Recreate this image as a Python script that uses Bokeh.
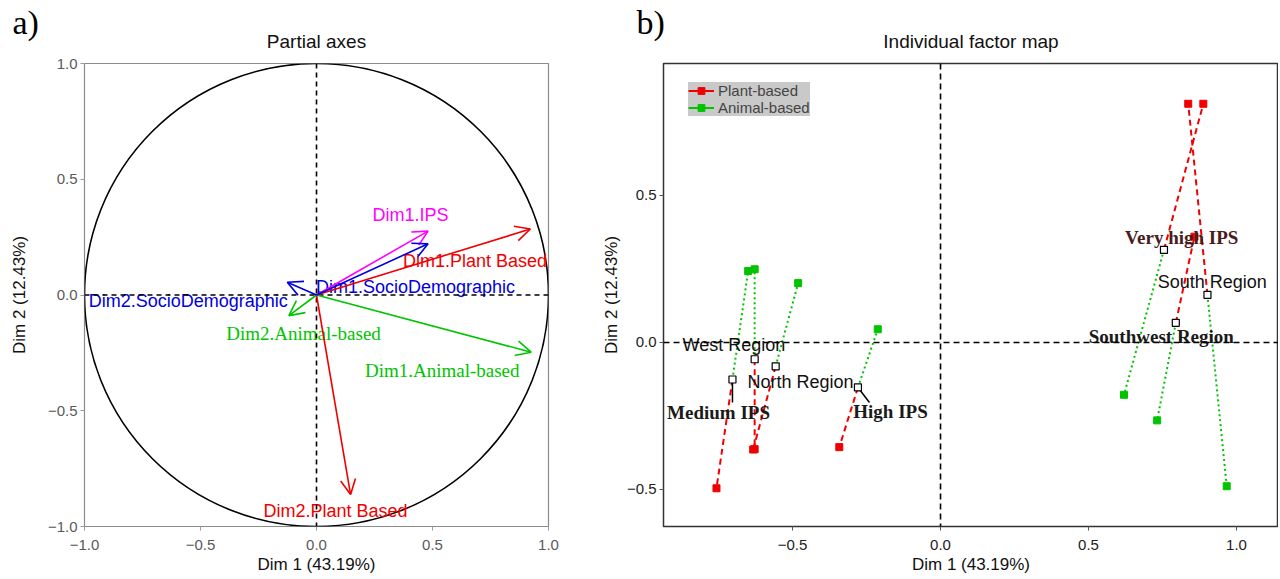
from bokeh.plotting import figure
from bokeh.models import (Arrow, OpenHead, Span, FixedTicker, Legend,
                          LegendItem, Title)
from bokeh.layouts import row
from bokeh.embed import file_html
from bokeh.resources import INLINE
from bokeh.core.properties import value

NAN = float("nan")

# ---------------- data: a) partial axes ----------------
axis_names = ["Dim1.Plant Based", "Dim2.Plant Based", "Dim1.Animal-based",
              "Dim2.Animal-based", "Dim1.IPS", "Dim1.SocioDemographic",
              "Dim2.SocioDemographic"]
axis_group = ["Plant Based", "Plant Based", "Animal-based", "Animal-based",
              "IPS", "SocioDemographic", "SocioDemographic"]
axis_dim1 = [0.922, 0.147, 0.925, -0.119, 0.481, 0.481, -0.126]
axis_dim2 = [0.285, -0.862, -0.247, -0.089, 0.276, 0.221, 0.055]
axis_label_dim1 = [0.683, 0.082, 0.542, -0.056, 0.405, 0.427, -0.553]
axis_label_dim2 = [0.149, -0.931, -0.326, -0.166, 0.345, 0.034, -0.024]
left_ticks = [-1.0, -0.5, 0.0, 0.5, 1.0]
left_tick_labels = ["\u22121.0", "\u22120.5", "0.0", "0.5", "1.0"]

# ---------------- data: b) individual factor map ----------------
ind_names = ["West Region", "North Region", "Medium IPS", "High IPS",
             "Very high IPS", "South Region", "Southwest Region"]
ind_bold = [False, False, True, True, True, False, True]
ind_dim1 = [-0.628, -0.557, -0.703, -0.279, 0.755, 0.902, 0.795]
ind_dim2 = [-0.057, -0.081, -0.126, -0.153, 0.315, 0.162, 0.067]
plant_dim1 = [-0.628, -0.633, -0.757, -0.342, 0.888, 0.837, 0.858]
plant_dim2 = [-0.363, -0.364, -0.496, -0.356, 0.812, 0.812, 0.360]
animal_dim1 = [-0.628, -0.481, -0.650, -0.212, 0.620, 0.967, 0.732]
animal_dim2 = [0.249, 0.202, 0.243, 0.045, -0.178, -0.489, -0.265]
ind_label_dim1 = [-0.698, -0.473, -0.750, -0.169, 0.815, 0.918, 0.746]
ind_label_dim2 = [-0.010, -0.133, -0.238, -0.234, 0.357, 0.207, 0.020]
leader_names = ["Medium IPS", "High IPS"]
leader_end_dim1 = [-0.703, -0.240]
leader_end_dim2 = [-0.204, -0.204]
legend_labels = ["Plant-based", "Animal-based"]
right_xticks = [-0.5, 0.0, 0.5, 1.0]
right_xtick_labels = ["\u22120.5", "0.0", "0.5", "1.0"]
right_yticks = [-0.5, 0.0, 0.5]
right_ytick_labels = ["\u22120.5", "0.0", "0.5"]

# ---------------- styles ----------------
RED = "#f00000"
GREEN = "#00c400"
SANS = "Liberation Sans"
SERIF = "Liberation Serif"
group_color = {"Plant Based": RED, "Animal-based": GREEN,
               "IPS": "#ff00ff", "SocioDemographic": "#0000e0"}
group_font = {"Plant Based": SANS, "Animal-based": SERIF,
              "IPS": SANS, "SocioDemographic": SANS}


def style_axes(p, ticks_x, labels_x, ticks_y, labels_y, tick_color, line_color,
               ylab_standoff):
    for ax, ticks, labels in ((p.xaxis, ticks_x, labels_x), (p.yaxis, ticks_y, labels_y)):
        ax.ticker = FixedTicker(ticks=ticks)
        ax.major_label_overrides = {t: l for t, l in zip(ticks, labels)}
        ax.minor_tick_line_color = None
        ax.axis_line_color = None
        ax.major_tick_in = 0
        ax.major_tick_out = 4
        ax.major_tick_line_color = line_color
        ax.major_label_text_color = tick_color
        ax.major_label_text_font = SANS
        ax.major_label_text_font_size = "15px"
        ax.axis_label_text_font = SANS
        ax.axis_label_text_font_size = "17px"
        ax.axis_label_text_font_style = "normal"
        ax.axis_label_text_color = "#111111"
    p.xaxis.major_label_standoff = 9
    p.xaxis.axis_label_standoff = 2
    p.yaxis.major_label_standoff = 3
    p.yaxis.axis_label_standoff = ylab_standoff
    p.xgrid.visible = False
    p.ygrid.visible = False


def style_titles(p, main_title, tag_offset):
    # outer title: panel tag "a)" / "b)"
    p.title.align = "left"
    p.title.offset = tag_offset
    p.title.standoff = -47
    p.title.text_font = SERIF
    p.title.text_font_size = "34px"
    p.title.text_font_style = "normal"
    p.title.text_color = "black"
    # inner title: chart title
    p.add_layout(Title(text=main_title, align="center", standoff=23,
                       text_font=SANS, text_font_size="19px",
                       text_font_style="normal", text_color="#111111"), "above")


# ---------------- a) ----------------
p = figure(width=596, height=577, x_range=(-1, 1), y_range=(-1, 1),
           output_backend="svg", toolbar_location=None,
           min_border_left=84, min_border_right=48, min_border_top=63,
           min_border_bottom=51, title="a)")
style_titles(p, "Partial axes", -72)
p.outline_line_color = "#8c8c8c"
p.outline_line_width = 1.2
p.xaxis.axis_label = "Dim 1 (43.19%)"
p.yaxis.axis_label = "Dim 2 (12.43%)"
style_axes(p, left_ticks, left_tick_labels, left_ticks, left_tick_labels,
           "#5a5a5a", "#9a9a9a", 16)

p.ellipse(x=0, y=0, width=2, height=2, fill_color=None, line_color="black",
          line_width=1.6)
p.add_layout(Span(location=0, dimension="width", line_color="black",
                  line_dash="5 4", line_width=1.6))
p.add_layout(Span(location=0, dimension="height", line_color="black",
                  line_dash="5 4", line_width=1.6))

for nm, g, xv, yv in zip(axis_names, axis_group, axis_dim1, axis_dim2):
    c = group_color[g]
    p.add_layout(Arrow(x_start=0, y_start=0, x_end=xv, y_end=yv,
                       line_color=c, line_width=1.6,
                       end=OpenHead(size=15, line_color=c, line_width=1.6)))

for font in (SANS, SERIF):
    idx = [i for i, g in enumerate(axis_group) if group_font[g] == font]
    p.text(x=[axis_label_dim1[i] for i in idx], y=[axis_label_dim2[i] for i in idx],
           text=[axis_names[i] for i in idx],
           text_color=[group_color[axis_group[i]] for i in idx],
           text_font=value(font), text_font_size="18px" if font == SANS else "19px",
           text_align="center", text_baseline="middle")

# ---------------- b) ----------------
q = figure(width=682, height=577, x_range=(-0.936, 1.142), y_range=(-0.626, 0.949),
           output_backend="svg", toolbar_location=None,
           min_border_left=67, min_border_right=0, min_border_top=63,
           min_border_bottom=51, title="b)")
style_titles(q, "Individual factor map", -27)
q.outline_line_color = "#333333"
q.outline_line_width = 1.5
q.xaxis.axis_label = "Dim 1 (43.19%)"
q.yaxis.axis_label = "Dim 2 (12.43%)"
style_axes(q, right_xticks, right_xtick_labels, right_yticks, right_ytick_labels,
           "#222222", "#555555", 3)

q.add_layout(Span(location=0, dimension="width", line_color="black",
                  line_dash="6 4", line_width=1.6))
q.add_layout(Span(location=0, dimension="height", line_color="black",
                  line_dash="6 4", line_width=1.6))

q.segment(x0=ind_dim1, y0=ind_dim2, x1=plant_dim1, y1=plant_dim2,
          line_color=RED, line_width=2, line_dash="6 4")
q.segment(x0=ind_dim1, y0=ind_dim2, x1=animal_dim1, y1=animal_dim2,
          line_color=GREEN, line_width=2, line_dash="2 3")
q.scatter(x=plant_dim1, y=plant_dim2, marker="square", size=7,
          fill_color=RED, line_color=RED)
q.scatter(x=animal_dim1, y=animal_dim2, marker="square", size=7,
          fill_color=GREEN, line_color=GREEN)

lead_idx = [ind_names.index(n) for n in leader_names]
q.segment(x0=[ind_dim1[i] for i in lead_idx], y0=[ind_dim2[i] for i in lead_idx],
          x1=leader_end_dim1, y1=leader_end_dim2, line_color="black", line_width=1.5)

q.scatter(x=ind_dim1, y=ind_dim2, marker="square", size=7, fill_color="white",
          line_color="black", line_width=1.2)

reg = [i for i, b in enumerate(ind_bold) if not b]
q.text(x=[ind_label_dim1[i] for i in reg], y=[ind_label_dim2[i] for i in reg],
       text=[ind_names[i] for i in reg], text_color="#111111",
       text_font=value(SANS), text_font_size="18px", text_align="center",
       text_baseline="middle")
bold = [i for i, b in enumerate(ind_bold) if b]
q.text(x=[ind_label_dim1[i] for i in bold], y=[ind_label_dim2[i] for i in bold],
       text=[ind_names[i] for i in bold],
       text_color=["#4a1c1c" if ind_names[i] == "Very high IPS" else "#1a1a1a" for i in bold],
       text_font=value(SERIF), text_font_size="19px", text_font_style="bold",
       text_align="center", text_baseline="middle")

# legend key glyphs (no visible data of their own)
lg_pl = q.line(x=[NAN], y=[NAN], line_color=RED, line_width=2)
lg_ps = q.scatter(x=[NAN], y=[NAN], marker="square", size=6, fill_color=RED, line_color=RED)
lg_al = q.line(x=[NAN], y=[NAN], line_color=GREEN, line_width=2)
lg_as = q.scatter(x=[NAN], y=[NAN], marker="square", size=6, fill_color=GREEN, line_color=GREEN)
legend = Legend(items=[LegendItem(label=legend_labels[0], renderers=[lg_pl, lg_ps]),
                       LegendItem(label=legend_labels[1], renderers=[lg_al, lg_as])],
                location=(25, 410), background_fill_color="#c9c9c9",
                background_fill_alpha=1, border_line_color=None,
                label_text_font=SANS, label_text_font_size="15px",
                glyph_width=26, glyph_height=17, label_height=17,
                spacing=0, padding=3, margin=0, label_standoff=4)
q.add_layout(legend)

layout = row(p, q)
open("out.html", "w").write(file_html(layout, INLINE))
